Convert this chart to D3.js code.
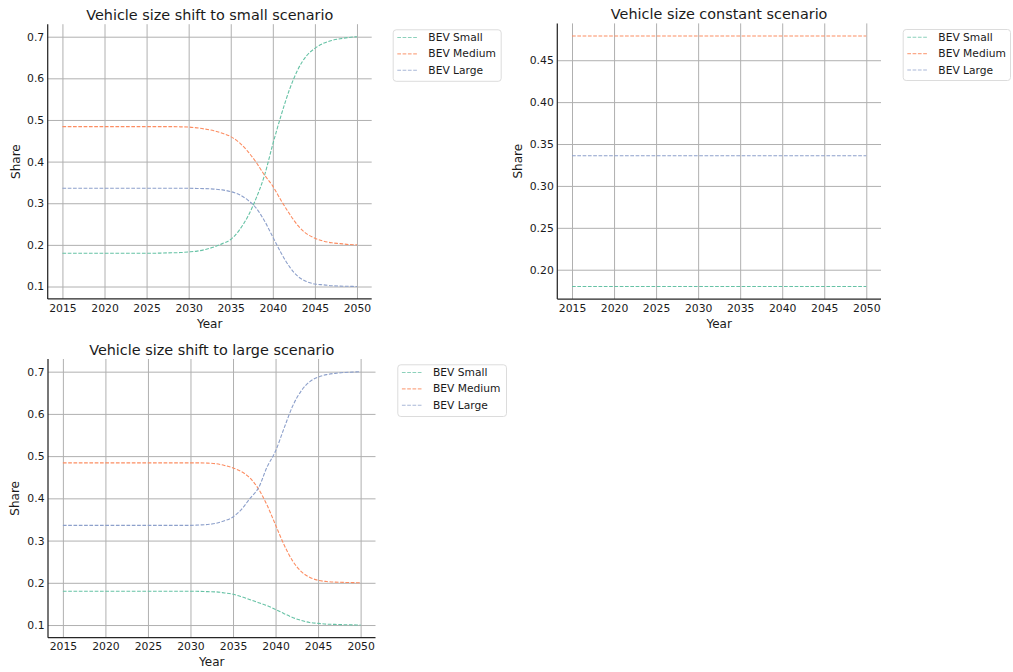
<!DOCTYPE html>
<html>
<head>
<meta charset="utf-8">
<script src="https://cdn.jsdelivr.net/npm/d3@7"></script>
<style>
  html, body { margin: 0; padding: 0; background: #fff; }
  svg { display: block; font-family: "DejaVu Sans", sans-serif; }
</style>
</head>
<body>
<svg id="chart" width="1013" height="672"></svg>
<script>
// Years on the x axis
const years = [2015, 2016, 2017, 2018, 2019, 2020, 2021, 2022, 2023, 2024, 2025, 2026,
  2027, 2028, 2029, 2030, 2031, 2032, 2033, 2034, 2035, 2036, 2037, 2038,
  2039, 2040, 2041, 2042, 2043, 2044, 2045, 2046, 2047, 2048, 2049, 2050];

const seriesNames = ["BEV Small", "BEV Medium", "BEV Large"];
const seriesColors = ["#66c2a5", "#fc8d62", "#8da0cb"];

// Shift to small scenario
const smallShiftSmall = [0.180, 0.180, 0.180, 0.180, 0.180, 0.180, 0.180, 0.180, 0.180, 0.180, 0.180, 0.180,
  0.1805, 0.181, 0.1815, 0.183, 0.185, 0.189, 0.195, 0.203, 0.213, 0.235, 0.267, 0.311,
  0.366, 0.442, 0.512, 0.574, 0.622, 0.654, 0.672, 0.684, 0.691, 0.695, 0.698, 0.700];
const smallShiftMedium = [0.484, 0.484, 0.484, 0.484, 0.484, 0.484, 0.484, 0.484, 0.484, 0.484, 0.484, 0.484,
  0.484, 0.484, 0.4835, 0.483, 0.481, 0.478, 0.474, 0.468, 0.460, 0.446, 0.425, 0.399,
  0.368, 0.341, 0.306, 0.274, 0.246, 0.227, 0.216, 0.209, 0.205, 0.203, 0.201, 0.200];
const smallShiftLarge = [0.336, 0.336, 0.336, 0.336, 0.336, 0.336, 0.336, 0.336, 0.336, 0.336, 0.336, 0.336,
  0.336, 0.336, 0.336, 0.336, 0.3355, 0.335, 0.334, 0.332, 0.328, 0.321, 0.308, 0.289,
  0.258, 0.219, 0.180, 0.147, 0.124, 0.112, 0.106, 0.104, 0.102, 0.101, 0.1005, 0.100];

// Constant scenario
const constSmall = [0.18, 0.18, 0.18, 0.18, 0.18, 0.18, 0.18, 0.18, 0.18, 0.18, 0.18, 0.18,
  0.18, 0.18, 0.18, 0.18, 0.18, 0.18, 0.18, 0.18, 0.18, 0.18, 0.18, 0.18,
  0.18, 0.18, 0.18, 0.18, 0.18, 0.18, 0.18, 0.18, 0.18, 0.18, 0.18, 0.18];
const constMedium = [0.479, 0.479, 0.479, 0.479, 0.479, 0.479, 0.479, 0.479, 0.479, 0.479, 0.479, 0.479,
  0.479, 0.479, 0.479, 0.479, 0.479, 0.479, 0.479, 0.479, 0.479, 0.479, 0.479, 0.479,
  0.479, 0.479, 0.479, 0.479, 0.479, 0.479, 0.479, 0.479, 0.479, 0.479, 0.479, 0.479];
const constLarge = [0.336, 0.336, 0.336, 0.336, 0.336, 0.336, 0.336, 0.336, 0.336, 0.336, 0.336, 0.336,
  0.336, 0.336, 0.336, 0.336, 0.336, 0.336, 0.336, 0.336, 0.336, 0.336, 0.336, 0.336,
  0.336, 0.336, 0.336, 0.336, 0.336, 0.336, 0.336, 0.336, 0.336, 0.336, 0.336, 0.336];

// Shift to large scenario
const largeShiftSmall = [0.180, 0.180, 0.180, 0.180, 0.180, 0.180, 0.180, 0.180, 0.180, 0.180, 0.180, 0.180,
  0.180, 0.180, 0.180, 0.180, 0.1798, 0.179, 0.1785, 0.176, 0.173, 0.167, 0.160, 0.153,
  0.146, 0.137, 0.127, 0.118, 0.111, 0.106, 0.104, 0.102, 0.1015, 0.1008, 0.1004, 0.100];
const largeShiftMedium = [0.484, 0.484, 0.484, 0.484, 0.484, 0.484, 0.484, 0.484, 0.484, 0.484, 0.484, 0.484,
  0.484, 0.484, 0.484, 0.484, 0.484, 0.4835, 0.482, 0.478, 0.472, 0.463, 0.448, 0.422,
  0.384, 0.337, 0.290, 0.252, 0.227, 0.213, 0.206, 0.203, 0.2015, 0.201, 0.2005, 0.200];
const largeShiftLarge = [0.336, 0.336, 0.336, 0.336, 0.336, 0.336, 0.336, 0.336, 0.336, 0.336, 0.336, 0.336,
  0.336, 0.336, 0.336, 0.336, 0.337, 0.338, 0.341, 0.347, 0.356, 0.374, 0.400, 0.425,
  0.474, 0.512, 0.566, 0.618, 0.654, 0.676, 0.687, 0.693, 0.696, 0.698, 0.699, 0.700];

// Tick values per panel
const xTicks = [2015, 2020, 2025, 2030, 2035, 2040, 2045, 2050];
const yTicksShift = [0.1, 0.2, 0.3, 0.4, 0.5, 0.6, 0.7];
const yTicksConst = [0.20, 0.25, 0.30, 0.35, 0.40, 0.45];

const panels = [
  {
    title: "Vehicle size shift to small scenario",
    series: [smallShiftSmall, smallShiftMedium, smallShiftLarge],
    yTicks: yTicksShift, yFmt: d3.format(".1f"),
    box: { left: 47.7, right: 371.7, top: 24.2, bottom: 299 },
    legend: { x: 392.7, y: 29.3, w: 108, h: 51.5 },
    titleY: 15, yLabelX: 16
  },
  {
    title: "Vehicle size constant scenario",
    series: [constSmall, constMedium, constLarge],
    yTicks: yTicksConst, yFmt: d3.format(".2f"),
    box: { left: 557.3, right: 881, top: 23.4, bottom: 299 },
    legend: { x: 902.7, y: 29, w: 107.3, h: 51 },
    titleY: 14, yLabelX: 518
  },
  {
    title: "Vehicle size shift to large scenario",
    series: [largeShiftSmall, largeShiftMedium, largeShiftLarge],
    yTicks: yTicksShift, yFmt: d3.format(".1f"),
    box: { left: 48, right: 375.5, top: 359, bottom: 637.7 },
    legend: { x: 397.3, y: 364.3, w: 108.7, h: 51.7 },
    titleY: 350, yLabelX: 15
  }
];

const svg = d3.select("#chart");
const textColor = "#1a1a1a";

panels.forEach(p => {
  const b = p.box;
  const w = b.right - b.left, h = b.bottom - b.top;

  // Matplotlib-style 5% margins around the data range
  const allVals = p.series.flat();
  const yMin = d3.min(allVals), yMax = d3.max(allVals);
  const yPad = (yMax - yMin) * 0.05;
  const xPad = (d3.max(years) - d3.min(years)) * 0.05;

  const x = d3.scaleLinear().domain([d3.min(years) - xPad, d3.max(years) + xPad]).range([0, w]);
  const y = d3.scaleLinear().domain([yMin - yPad, yMax + yPad]).range([h, 0]);

  const g = svg.append("g").attr("transform", `translate(${b.left},${b.top})`);

  // Grid + tick labels
  const xAxis = g.append("g")
    .attr("transform", `translate(0,${h})`)
    .call(d3.axisBottom(x).tickValues(xTicks).tickFormat(d3.format("d"))
      .tickSizeInner(-h).tickSizeOuter(0).tickPadding(5));
  const yAxis = g.append("g")
    .call(d3.axisLeft(y).tickValues(p.yTicks).tickFormat(p.yFmt)
      .tickSizeInner(-w).tickSizeOuter(0).tickPadding(3.5));

  [xAxis, yAxis].forEach(ax => {
    ax.select(".domain").remove();
    ax.selectAll(".tick line").attr("stroke", "#b0b0b0").attr("stroke-width", 1);
    ax.selectAll(".tick text")
      .attr("fill", textColor)
      .style("font-size", "10.8px")
      .style("font-family", "DejaVu Sans, sans-serif");
  });

  // Series lines
  const line = d3.line()
    .x((d, i) => x(years[i]))
    .y(d => y(d))
    .curve(d3.curveMonotoneX);

  p.series.forEach((vals, i) => {
    g.append("path")
      .datum(vals)
      .attr("d", line)
      .attr("fill", "none")
      .attr("stroke", seriesColors[i])
      .attr("stroke-width", 1.1)
      .attr("stroke-dasharray", "3.7,1.6");
  });

  // Left and bottom spines
  g.append("line").attr("x1", 0).attr("x2", 0).attr("y1", 0).attr("y2", h)
    .attr("stroke", "#262626").attr("stroke-width", 1.25);
  g.append("line").attr("x1", 0).attr("x2", w).attr("y1", h).attr("y2", h)
    .attr("stroke", "#262626").attr("stroke-width", 1.25);

  // Title and axis labels
  svg.append("text")
    .attr("x", b.left + w / 2).attr("y", p.titleY)
    .attr("text-anchor", "middle").attr("dominant-baseline", "central")
    .attr("fill", textColor).style("font-size", "14.4px")
    .text(p.title);
  svg.append("text")
    .attr("x", b.left + w / 2).attr("y", b.bottom + 24.5)
    .attr("text-anchor", "middle").attr("dominant-baseline", "central")
    .attr("fill", textColor).style("font-size", "12px")
    .text("Year");
  svg.append("text")
    .attr("transform", `translate(${p.yLabelX},${b.top + h / 2}) rotate(-90)`)
    .attr("text-anchor", "middle").attr("dominant-baseline", "central")
    .attr("fill", textColor).style("font-size", "12px")
    .text("Share");

  // Legend
  const L = p.legend;
  const lg = svg.append("g").attr("transform", `translate(${L.x},${L.y})`);
  lg.append("rect")
    .attr("x", 0.5).attr("y", 0.5).attr("width", L.w).attr("height", L.h)
    .attr("rx", 3).attr("fill", "#fff").attr("stroke", "#dcdcdc").attr("stroke-width", 1);
  seriesNames.forEach((name, i) => {
    const cy = 8.2 + i * 16.4;
    lg.append("line")
      .attr("x1", 4.6).attr("x2", 25.6).attr("y1", cy).attr("y2", cy)
      .attr("stroke", seriesColors[i]).attr("stroke-width", 1.1)
      .attr("stroke-dasharray", "3.7,1.6").attr("opacity", 0.75);
    lg.append("text")
      .attr("x", 35.6).attr("y", cy)
      .attr("dominant-baseline", "central")
      .attr("fill", textColor).style("font-size", "10.7px")
      .text(name);
  });
});
</script>
</body>
</html>
